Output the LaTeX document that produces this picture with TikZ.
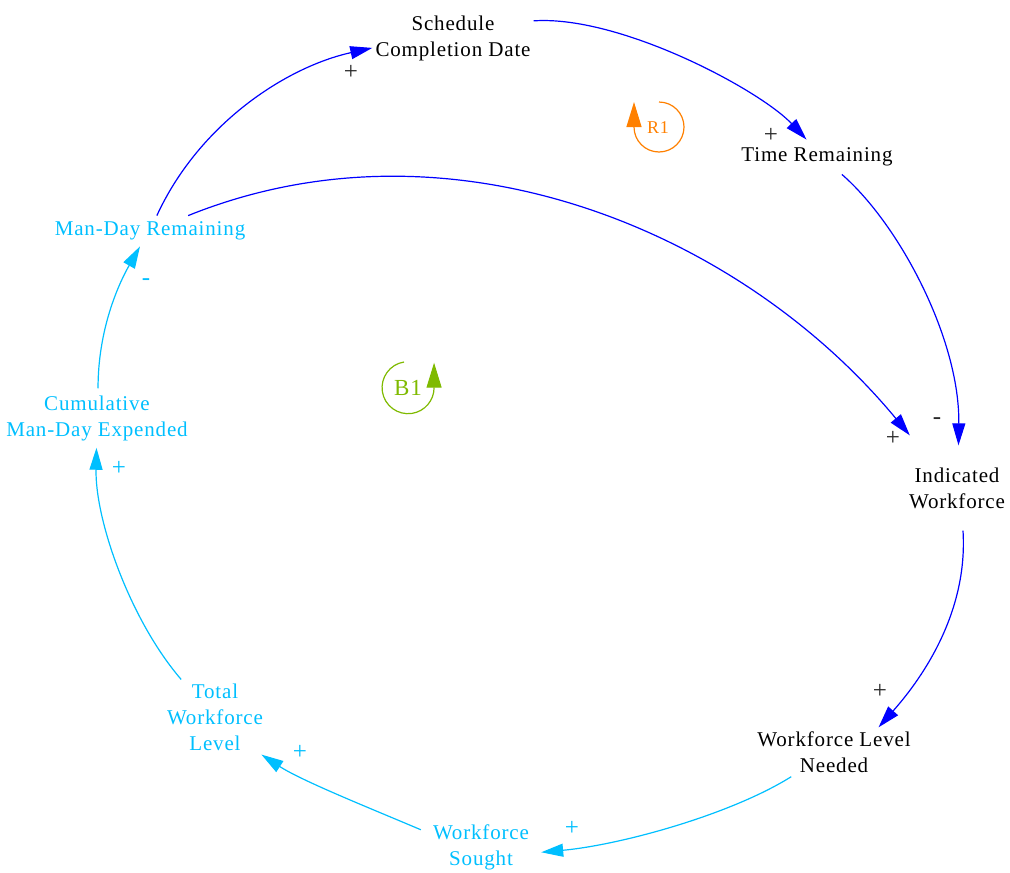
\documentclass[tikz,border=0pt]{standalone}
\usepackage{fontspec}
\setmainfont{Liberation Serif}[LetterSpace=4]
\usetikzlibrary{arrows.meta}
\definecolor{linkblue}{RGB}{0,0,255}
\definecolor{linkcyan}{RGB}{0,191,255}
\definecolor{looporange}{RGB}{255,128,0}
\definecolor{loopgreen}{RGB}{127,186,0}
\definecolor{signgray}{RGB}{40,40,40}

\begin{document}
\begin{tikzpicture}[x=1pt,y=-1pt,
  var/.style={align=center, inner sep=3pt, font=\fontsize{21}{26}\selectfont},
  cvar/.style={var, text=linkcyan},
  sign/.style={inner sep=0pt, font=\fontsize{25}{26}\selectfont, text=signgray},
  csign/.style={sign, text=linkcyan},
  link/.style={line width=1.2pt, draw=linkblue, -{Triangle[length=22pt,width=13pt]}},
  clink/.style={link, draw=linkcyan},
  loopmark/.style={line width=1.2pt, -{Triangle[length=25pt,width=15pt]}}]

\useasboundingbox (0,0) rectangle (1010,873);

% variables
\node[var] (scd) at (453,38) {Schedule\\Completion Date};
\node[var, inner ysep=8pt] (tr) at (817,157) {Time Remaining};
\node[cvar, inner ysep=6pt] (mdr) at (150,231) {Man-Day Remaining};
\node[cvar, inner ysep=7pt] (cme) at (97,418) {Cumulative\\Man-Day Expended};
\node[var, inner xsep=1pt, inner ysep=22pt] (iw) at (957,488) {Indicated\\Workforce};
\node[var, inner ysep=4pt] (wln) at (834,752) {Workforce Level\\Needed};
\node[cvar, inner sep=4pt] (twl) at (215,717) {Total\\Workforce\\Level};
\node[cvar, inner xsep=12pt] (ws) at (481,847) {Workforce\\Sought};

% causal links
\draw[link] (mdr.66) .. controls (199,124) and (286,67) .. (scd.187);
\draw[link] (scd.12) .. controls (620,15) and (760,90) .. (tr.121);
\draw[link] (tr.-35) .. controls (900,225) and (960,340) .. (iw.88);
\draw[link] (mdr.22) .. controls (450,110) and (740,230) .. ([xshift=2pt,yshift=10pt]iw.north west);
\draw[link] (iw.-82) .. controls (968,610) and (925,675) .. (wln.29);
\draw[clink] (wln.210) .. controls (730,815) and (620,845) .. (ws.-5);
\draw[clink] (ws.164) .. controls (372,809) and (302,781) .. (twl.-39);
\draw[clink] (twl.132) .. controls (130,620) and (95,520) .. (cme.-91);
\draw[clink] (cme.88) .. controls (98,330) and (118,285) .. (mdr.-123);

% polarities
\node[sign] (s1) at (351,72) {+};
\node[sign] (s2) at (771,135) {+};
\node[sign] (s3) at (937,421) {-};
\node[sign] (s4) at (893,438) {+};
\node[sign] (s5) at (880,691) {+};
\node[csign] (s6) at (572,828) {+};
\node[csign] (s7) at (300,752) {+};
\node[csign] (s8) at (119,468) {+};
\node[csign] (s9) at (146,282) {-};

% loop markers
\node[text=looporange, font=\fontsize{18}{20}\selectfont] (r1) at (658,128) {R1};
\draw[loopmark, looporange] (659,102) arc[start angle=-90, end angle=180, radius=25] -- ++(0,-25);
\node[text=loopgreen, font=\fontsize{23}{26}\selectfont] (b1) at (408,388) {B1};
\draw[loopmark, loopgreen] (404,362) arc[start angle=-99, end angle=-360, radius=26] -- ++(0,-25);

\end{tikzpicture}
\end{document}
